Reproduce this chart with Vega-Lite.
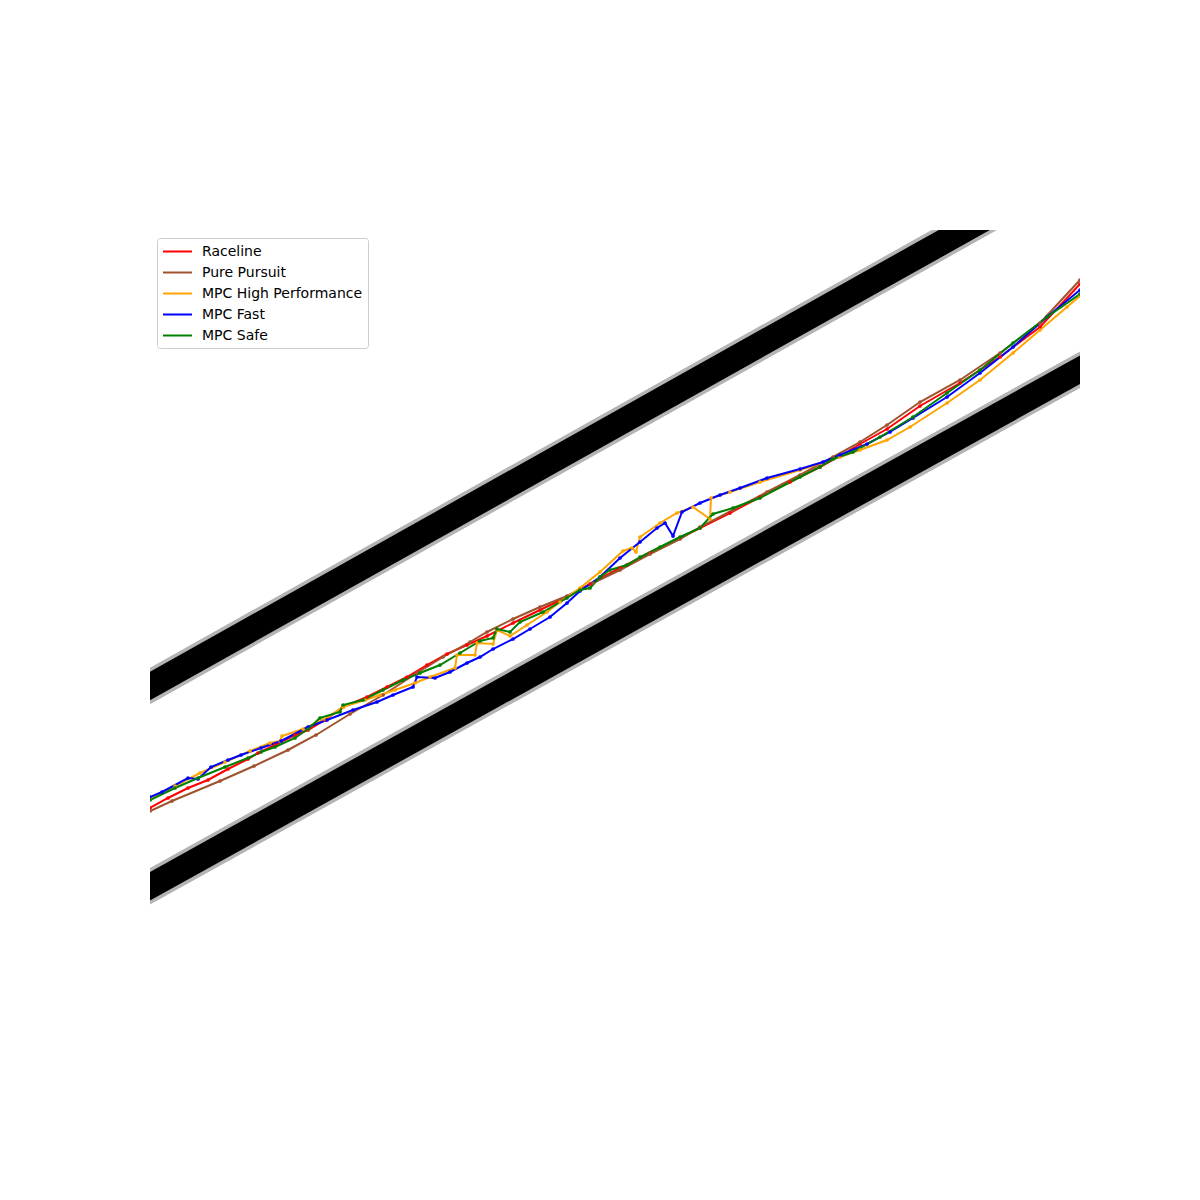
{
  "$schema": "https://vega.github.io/schema/vega-lite/v6.json",
  "width": 930,
  "height": 752,
  "autosize": {"type": "none"},
  "padding": {"left": 150, "top": 230, "right": 120, "bottom": 218},
  "background": "white",
  "config": {"view": {"stroke": null}},
  "datasets": {
    "track": [
      {"b": "upper", "x": 100, "y": 714},
      {"b": "upper", "x": 1000, "y": 210},
      {"b": "lower", "x": 100, "y": 914},
      {"b": "lower", "x": 1130, "y": 342}
    ],
    "paths": [
      {"s": "Raceline", "x": 150, "y": 808}, {"s": "Raceline", "x": 168, "y": 798}, {"s": "Raceline", "x": 188, "y": 788}, {"s": "Raceline", "x": 208, "y": 780}, {"s": "Raceline", "x": 228, "y": 769}, {"s": "Raceline", "x": 248, "y": 759}, {"s": "Raceline", "x": 258, "y": 753}, {"s": "Raceline", "x": 275, "y": 745}, {"s": "Raceline", "x": 295, "y": 735}, {"s": "Raceline", "x": 308, "y": 730}, {"s": "Raceline", "x": 325, "y": 720}, {"s": "Raceline", "x": 343, "y": 707}, {"s": "Raceline", "x": 367, "y": 697}, {"s": "Raceline", "x": 387, "y": 687}, {"s": "Raceline", "x": 407, "y": 677}, {"s": "Raceline", "x": 427, "y": 665}, {"s": "Raceline", "x": 447, "y": 654}, {"s": "Raceline", "x": 467, "y": 645}, {"s": "Raceline", "x": 487, "y": 636}, {"s": "Raceline", "x": 513, "y": 623}, {"s": "Raceline", "x": 540, "y": 610}, {"s": "Raceline", "x": 567, "y": 597}, {"s": "Raceline", "x": 590, "y": 584}, {"s": "Raceline", "x": 620, "y": 568}, {"s": "Raceline", "x": 650, "y": 553}, {"s": "Raceline", "x": 680, "y": 538}, {"s": "Raceline", "x": 700, "y": 528}, {"s": "Raceline", "x": 730, "y": 513}, {"s": "Raceline", "x": 760, "y": 497}, {"s": "Raceline", "x": 790, "y": 482}, {"s": "Raceline", "x": 820, "y": 467}, {"s": "Raceline", "x": 840, "y": 456}, {"s": "Raceline", "x": 860, "y": 444}, {"s": "Raceline", "x": 887, "y": 429}, {"s": "Raceline", "x": 920, "y": 406}, {"s": "Raceline", "x": 960, "y": 383}, {"s": "Raceline", "x": 1000, "y": 357}, {"s": "Raceline", "x": 1040, "y": 327}, {"s": "Raceline", "x": 1080, "y": 284},

      {"s": "Pure Pursuit", "x": 150, "y": 811}, {"s": "Pure Pursuit", "x": 172, "y": 801}, {"s": "Pure Pursuit", "x": 220, "y": 781}, {"s": "Pure Pursuit", "x": 254, "y": 766}, {"s": "Pure Pursuit", "x": 288, "y": 750}, {"s": "Pure Pursuit", "x": 316, "y": 735}, {"s": "Pure Pursuit", "x": 350, "y": 714}, {"s": "Pure Pursuit", "x": 383, "y": 695}, {"s": "Pure Pursuit", "x": 417, "y": 673}, {"s": "Pure Pursuit", "x": 443, "y": 657}, {"s": "Pure Pursuit", "x": 470, "y": 642}, {"s": "Pure Pursuit", "x": 487, "y": 632}, {"s": "Pure Pursuit", "x": 513, "y": 619}, {"s": "Pure Pursuit", "x": 540, "y": 607}, {"s": "Pure Pursuit", "x": 567, "y": 596}, {"s": "Pure Pursuit", "x": 593, "y": 583}, {"s": "Pure Pursuit", "x": 620, "y": 570}, {"s": "Pure Pursuit", "x": 650, "y": 554}, {"s": "Pure Pursuit", "x": 680, "y": 539}, {"s": "Pure Pursuit", "x": 700, "y": 527}, {"s": "Pure Pursuit", "x": 733, "y": 510}, {"s": "Pure Pursuit", "x": 767, "y": 492}, {"s": "Pure Pursuit", "x": 800, "y": 475}, {"s": "Pure Pursuit", "x": 833, "y": 457}, {"s": "Pure Pursuit", "x": 860, "y": 442}, {"s": "Pure Pursuit", "x": 887, "y": 425}, {"s": "Pure Pursuit", "x": 920, "y": 402}, {"s": "Pure Pursuit", "x": 960, "y": 380}, {"s": "Pure Pursuit", "x": 1000, "y": 353}, {"s": "Pure Pursuit", "x": 1040, "y": 323}, {"s": "Pure Pursuit", "x": 1080, "y": 280},

      {"s": "MPC High Performance", "x": 150, "y": 798}, {"s": "MPC High Performance", "x": 175, "y": 786}, {"s": "MPC High Performance", "x": 200, "y": 773}, {"s": "MPC High Performance", "x": 225, "y": 762}, {"s": "MPC High Performance", "x": 250, "y": 751}, {"s": "MPC High Performance", "x": 270, "y": 743}, {"s": "MPC High Performance", "x": 280, "y": 741}, {"s": "MPC High Performance", "x": 282, "y": 736}, {"s": "MPC High Performance", "x": 303, "y": 729}, {"s": "MPC High Performance", "x": 325, "y": 719}, {"s": "MPC High Performance", "x": 343, "y": 707}, {"s": "MPC High Performance", "x": 365, "y": 700}, {"s": "MPC High Performance", "x": 380, "y": 695}, {"s": "MPC High Performance", "x": 395, "y": 690}, {"s": "MPC High Performance", "x": 415, "y": 683}, {"s": "MPC High Performance", "x": 430, "y": 677}, {"s": "MPC High Performance", "x": 455, "y": 668}, {"s": "MPC High Performance", "x": 457, "y": 655}, {"s": "MPC High Performance", "x": 475, "y": 655}, {"s": "MPC High Performance", "x": 477, "y": 643}, {"s": "MPC High Performance", "x": 493, "y": 644}, {"s": "MPC High Performance", "x": 497, "y": 630}, {"s": "MPC High Performance", "x": 510, "y": 636}, {"s": "MPC High Performance", "x": 527, "y": 625}, {"s": "MPC High Performance", "x": 547, "y": 612}, {"s": "MPC High Performance", "x": 560, "y": 602}, {"s": "MPC High Performance", "x": 580, "y": 588}, {"s": "MPC High Performance", "x": 600, "y": 572}, {"s": "MPC High Performance", "x": 623, "y": 551}, {"s": "MPC High Performance", "x": 632, "y": 548}, {"s": "MPC High Performance", "x": 636, "y": 552}, {"s": "MPC High Performance", "x": 640, "y": 537}, {"s": "MPC High Performance", "x": 660, "y": 523}, {"s": "MPC High Performance", "x": 677, "y": 513}, {"s": "MPC High Performance", "x": 693, "y": 507}, {"s": "MPC High Performance", "x": 710, "y": 519}, {"s": "MPC High Performance", "x": 711, "y": 498}, {"s": "MPC High Performance", "x": 730, "y": 492}, {"s": "MPC High Performance", "x": 760, "y": 482}, {"s": "MPC High Performance", "x": 800, "y": 470}, {"s": "MPC High Performance", "x": 840, "y": 457}, {"s": "MPC High Performance", "x": 860, "y": 450}, {"s": "MPC High Performance", "x": 887, "y": 440}, {"s": "MPC High Performance", "x": 910, "y": 427}, {"s": "MPC High Performance", "x": 947, "y": 403}, {"s": "MPC High Performance", "x": 980, "y": 380}, {"s": "MPC High Performance", "x": 1013, "y": 353}, {"s": "MPC High Performance", "x": 1040, "y": 330}, {"s": "MPC High Performance", "x": 1067, "y": 307}, {"s": "MPC High Performance", "x": 1080, "y": 296},

      {"s": "MPC Fast", "x": 150, "y": 797}, {"s": "MPC Fast", "x": 162, "y": 792}, {"s": "MPC Fast", "x": 188, "y": 778}, {"s": "MPC Fast", "x": 198, "y": 779}, {"s": "MPC Fast", "x": 211, "y": 767}, {"s": "MPC Fast", "x": 228, "y": 760}, {"s": "MPC Fast", "x": 241, "y": 755}, {"s": "MPC Fast", "x": 261, "y": 748}, {"s": "MPC Fast", "x": 281, "y": 741}, {"s": "MPC Fast", "x": 308, "y": 727}, {"s": "MPC Fast", "x": 327, "y": 720}, {"s": "MPC Fast", "x": 353, "y": 710}, {"s": "MPC Fast", "x": 377, "y": 702}, {"s": "MPC Fast", "x": 393, "y": 695}, {"s": "MPC Fast", "x": 413, "y": 687}, {"s": "MPC Fast", "x": 417, "y": 677}, {"s": "MPC Fast", "x": 435, "y": 678}, {"s": "MPC Fast", "x": 450, "y": 672}, {"s": "MPC Fast", "x": 467, "y": 663}, {"s": "MPC Fast", "x": 480, "y": 657}, {"s": "MPC Fast", "x": 493, "y": 649}, {"s": "MPC Fast", "x": 513, "y": 639}, {"s": "MPC Fast", "x": 530, "y": 629}, {"s": "MPC Fast", "x": 550, "y": 617}, {"s": "MPC Fast", "x": 567, "y": 603}, {"s": "MPC Fast", "x": 580, "y": 591}, {"s": "MPC Fast", "x": 600, "y": 577}, {"s": "MPC Fast", "x": 620, "y": 558}, {"s": "MPC Fast", "x": 640, "y": 542}, {"s": "MPC Fast", "x": 657, "y": 528}, {"s": "MPC Fast", "x": 665, "y": 523}, {"s": "MPC Fast", "x": 673, "y": 536}, {"s": "MPC Fast", "x": 682, "y": 512}, {"s": "MPC Fast", "x": 700, "y": 503}, {"s": "MPC Fast", "x": 720, "y": 495}, {"s": "MPC Fast", "x": 740, "y": 488}, {"s": "MPC Fast", "x": 767, "y": 478}, {"s": "MPC Fast", "x": 800, "y": 469}, {"s": "MPC Fast", "x": 823, "y": 462}, {"s": "MPC Fast", "x": 840, "y": 455}, {"s": "MPC Fast", "x": 867, "y": 444}, {"s": "MPC Fast", "x": 890, "y": 432}, {"s": "MPC Fast", "x": 913, "y": 418}, {"s": "MPC Fast", "x": 947, "y": 397}, {"s": "MPC Fast", "x": 980, "y": 373}, {"s": "MPC Fast", "x": 1013, "y": 347}, {"s": "MPC Fast", "x": 1047, "y": 317}, {"s": "MPC Fast", "x": 1080, "y": 290},

      {"s": "MPC Safe", "x": 150, "y": 800}, {"s": "MPC Safe", "x": 175, "y": 788}, {"s": "MPC Safe", "x": 198, "y": 778}, {"s": "MPC Safe", "x": 225, "y": 767}, {"s": "MPC Safe", "x": 248, "y": 758}, {"s": "MPC Safe", "x": 261, "y": 752}, {"s": "MPC Safe", "x": 275, "y": 747}, {"s": "MPC Safe", "x": 295, "y": 738}, {"s": "MPC Safe", "x": 308, "y": 729}, {"s": "MPC Safe", "x": 320, "y": 718}, {"s": "MPC Safe", "x": 340, "y": 712}, {"s": "MPC Safe", "x": 343, "y": 705}, {"s": "MPC Safe", "x": 363, "y": 700}, {"s": "MPC Safe", "x": 383, "y": 690}, {"s": "MPC Safe", "x": 403, "y": 680}, {"s": "MPC Safe", "x": 420, "y": 673}, {"s": "MPC Safe", "x": 440, "y": 665}, {"s": "MPC Safe", "x": 460, "y": 653}, {"s": "MPC Safe", "x": 480, "y": 641}, {"s": "MPC Safe", "x": 493, "y": 638}, {"s": "MPC Safe", "x": 497, "y": 629}, {"s": "MPC Safe", "x": 510, "y": 632}, {"s": "MPC Safe", "x": 520, "y": 622}, {"s": "MPC Safe", "x": 543, "y": 612}, {"s": "MPC Safe", "x": 567, "y": 598}, {"s": "MPC Safe", "x": 580, "y": 590}, {"s": "MPC Safe", "x": 590, "y": 588}, {"s": "MPC Safe", "x": 600, "y": 577}, {"s": "MPC Safe", "x": 610, "y": 570}, {"s": "MPC Safe", "x": 627, "y": 565}, {"s": "MPC Safe", "x": 640, "y": 557}, {"s": "MPC Safe", "x": 660, "y": 547}, {"s": "MPC Safe", "x": 680, "y": 537}, {"s": "MPC Safe", "x": 700, "y": 528}, {"s": "MPC Safe", "x": 713, "y": 514}, {"s": "MPC Safe", "x": 733, "y": 508}, {"s": "MPC Safe", "x": 760, "y": 498}, {"s": "MPC Safe", "x": 800, "y": 477}, {"s": "MPC Safe", "x": 820, "y": 467}, {"s": "MPC Safe", "x": 833, "y": 459}, {"s": "MPC Safe", "x": 853, "y": 452}, {"s": "MPC Safe", "x": 880, "y": 437}, {"s": "MPC Safe", "x": 913, "y": 417}, {"s": "MPC Safe", "x": 947, "y": 393}, {"s": "MPC Safe", "x": 980, "y": 370}, {"s": "MPC Safe", "x": 1013, "y": 343}, {"s": "MPC Safe", "x": 1047, "y": 317}, {"s": "MPC Safe", "x": 1080, "y": 294}
    ]
  },
  "encoding": {
    "x": {"field": "x", "type": "quantitative", "scale": {"domain": [150, 1080], "zero": false, "nice": false}, "axis": null},
    "y": {"field": "y", "type": "quantitative", "scale": {"domain": [230, 982], "zero": false, "nice": false, "reverse": true}, "axis": null}
  },
  "layer": [
    {
      "data": {"name": "track"},
      "mark": {"type": "line", "clip": true, "strokeWidth": 32, "color": "#b4b4b4", "strokeCap": "butt"},
      "encoding": {"detail": {"field": "b"}}
    },
    {
      "data": {"name": "track"},
      "mark": {"type": "line", "clip": true, "strokeWidth": 25, "color": "#000000", "strokeCap": "butt"},
      "encoding": {"detail": {"field": "b"}}
    },
    {
      "data": {"name": "paths"},
      "mark": {"type": "line", "clip": true, "strokeWidth": 2, "point": {"filled": true, "size": 14, "clip": true}},
      "encoding": {
        "order": {"value": null},
        "color": {
          "field": "s", "type": "nominal",
          "scale": {"domain": ["Raceline", "Pure Pursuit", "MPC High Performance", "MPC Fast", "MPC Safe"], "range": ["#ff0000", "#a0522d", "#ffa500", "#0000ff", "#008000"]},
          "sort": null,
          "legend": {
            "title": null, "orient": "none", "legendX": 7, "legendY": 8,
            "symbolType": "M-2,0H2", "symbolSize": 210, "symbolStrokeWidth": 2, "symbolOpacity": 1, "symbolOffset": 7,
            "labelFont": "DejaVu Sans", "labelFontSize": 14, "labelColor": "#000000", "labelOffset": 16,
            "rowPadding": 5, "padding": 5, "strokeColor": "#cccccc", "fillColor": "#ffffff", "cornerRadius": 3,
            "labelLimit": 400
          }
        }
      }
    }
  ]
}
